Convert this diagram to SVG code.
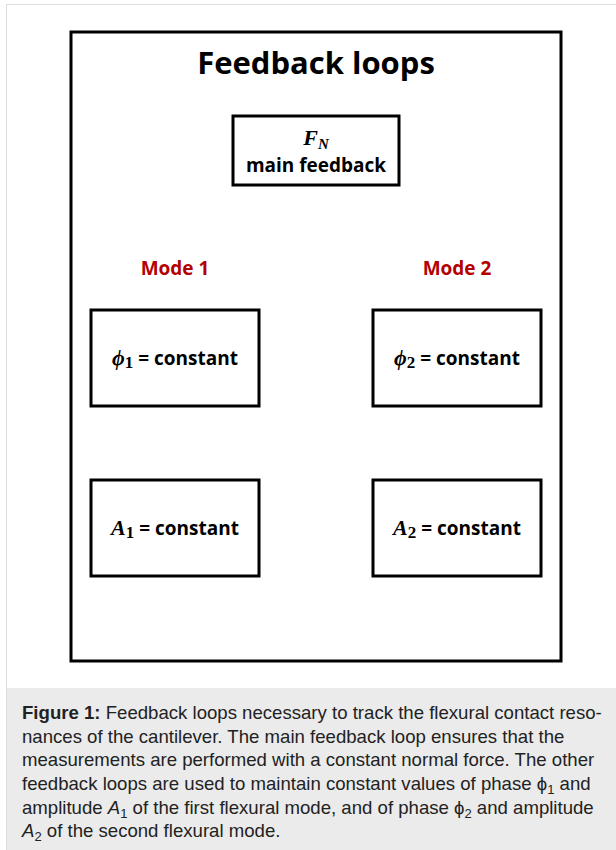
<svg xmlns="http://www.w3.org/2000/svg" width="616" height="850" viewBox="0 0 616 850">
<style>
.box{fill:#fff;stroke:#000;stroke-width:3}
.lbl{font-family:"Open Sans","Liberation Sans",sans-serif;font-weight:bold;font-size:19px;fill:#000}
.math{font-family:"Liberation Serif","DejaVu Serif",serif;font-style:italic;font-weight:bold;font-size:22px}
.mode{font-family:"Open Sans","Liberation Sans",sans-serif;font-weight:bold;font-size:19px;fill:#b30000}
.cap{font-family:"Liberation Sans",Arial,sans-serif;font-size:18.6px;fill:#222}
</style>
<rect x="0" y="0" width="616" height="850" fill="#fff"/>
<rect x="6.5" y="4.5" width="620" height="850" fill="#fff" stroke="#ddd" stroke-width="1"/>
<rect x="7" y="688" width="609" height="162" fill="#ebebeb"/>
<g id="frame">
<rect x="71" y="32" width="490" height="629" fill="none" stroke="#000" stroke-width="3"/>
<text x="316" y="74" text-anchor="middle" font-family="'Open Sans','Liberation Sans',sans-serif" font-weight="bold" font-size="31" fill="#000">Feedback loops</text>
</g>
<g id="fn">
<rect class="box" x="233" y="116" width="166" height="69"/>
<text x="316" y="145" text-anchor="middle" class="math">F<tspan font-size="15" dy="4">N</tspan></text>
<text x="316" y="172" text-anchor="middle" class="lbl">main feedback</text>
</g>
<g id="mode1"><text x="175" y="275" text-anchor="middle" class="mode">Mode 1</text></g>
<g id="mode2"><text x="457" y="275" text-anchor="middle" class="mode">Mode 2</text></g>
<g id="phi1">
<rect class="box" x="91" y="310" width="168" height="96"/>
<text x="175" y="365" text-anchor="middle" class="lbl"><tspan class="math">ϕ</tspan><tspan font-family="'Liberation Serif',serif" font-size="17" dy="3">1</tspan><tspan dy="-3"> = constant</tspan></text>
</g>
<g id="phi2">
<rect class="box" x="373" y="310" width="168" height="96"/>
<text x="457" y="365" text-anchor="middle" class="lbl"><tspan class="math">ϕ</tspan><tspan font-family="'Liberation Serif',serif" font-size="17" dy="3">2</tspan><tspan dy="-3"> = constant</tspan></text>
</g>
<g id="a1">
<rect class="box" x="91" y="480" width="168" height="96"/>
<text x="175" y="535" text-anchor="middle" class="lbl"><tspan class="math">A</tspan><tspan font-family="'Liberation Serif',serif" font-size="17" dy="3">1</tspan><tspan dy="-3"> = constant</tspan></text>
</g>
<g id="a2">
<rect class="box" x="373" y="480" width="168" height="96"/>
<text x="457" y="535" text-anchor="middle" class="lbl"><tspan class="math">A</tspan><tspan font-family="'Liberation Serif',serif" font-size="17" dy="3">2</tspan><tspan dy="-3"> = constant</tspan></text>
</g>
<g id="connectors"/>
<g id="caption" class="cap">
<text x="22" y="719"><tspan font-weight="bold">Figure 1:</tspan> Feedback loops necessary to track the flexural contact reso-</text>
<text x="22" y="743">nances of the cantilever. The main feedback loop ensures that the</text>
<text x="22" y="766">measurements are performed with a constant normal force. The other</text>
<text x="22" y="790">feedback loops are used to maintain constant values of phase ϕ<tspan font-size="13" dy="4">1</tspan><tspan dy="-4"> and</tspan></text>
<text x="22" y="814">amplitude <tspan font-style="italic">A</tspan><tspan font-size="13" dy="4">1</tspan><tspan dy="-4"> of the first flexural mode, and of phase ϕ</tspan><tspan font-size="13" dy="4">2</tspan><tspan dy="-4"> and amplitude</tspan></text>
<text x="22" y="837"><tspan font-style="italic">A</tspan><tspan font-size="13" dy="4">2</tspan><tspan dy="-4"> of the second flexural mode.</tspan></text>
</g>
</svg>
